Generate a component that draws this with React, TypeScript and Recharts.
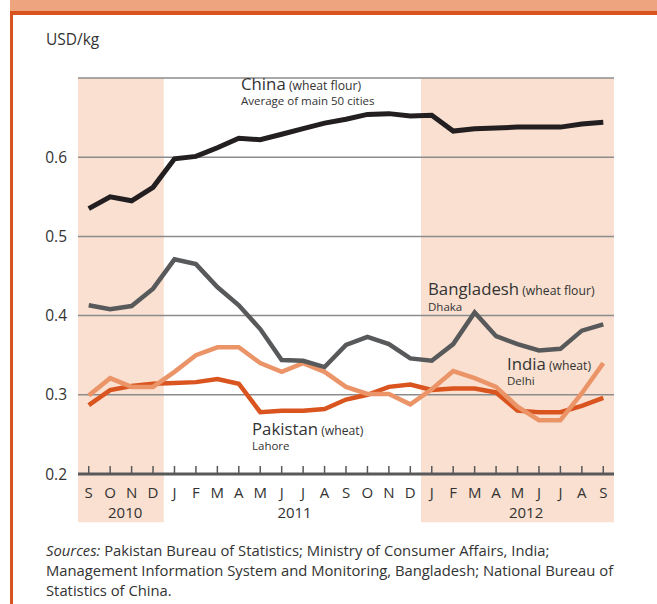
import React from "react";
import {
  LineChart,
  Line,
  XAxis,
  YAxis,
  CartesianGrid,
  ReferenceArea,
} from "recharts";

const months = [
  "Sep 2010", "Oct 2010", "Nov 2010", "Dec 2010",
  "Jan 2011", "Feb 2011", "Mar 2011", "Apr 2011", "May 2011", "Jun 2011",
  "Jul 2011", "Aug 2011", "Sep 2011", "Oct 2011", "Nov 2011", "Dec 2011",
  "Jan 2012", "Feb 2012", "Mar 2012", "Apr 2012", "May 2012", "Jun 2012",
  "Jul 2012", "Aug 2012", "Sep 2012",
];

const chinaFlour = [
  0.535, 0.55, 0.545, 0.562, 0.598, 0.601, 0.612, 0.624, 0.622, 0.629,
  0.636, 0.643, 0.648, 0.654, 0.655, 0.652, 0.653, 0.633, 0.636, 0.637,
  0.638, 0.638, 0.638, 0.642, 0.644,
];
const bangladeshFlour = [
  0.413, 0.408, 0.412, 0.434, 0.471, 0.465, 0.436, 0.413, 0.383, 0.344,
  0.343, 0.335, 0.363, 0.373, 0.364, 0.346, 0.343, 0.364, 0.404, 0.374,
  0.364, 0.356, 0.358, 0.381, 0.389,
];
const pakistanWheat = [
  0.287, 0.306, 0.311, 0.314, 0.315, 0.316, 0.32, 0.314, 0.278, 0.28,
  0.28, 0.282, 0.294, 0.3, 0.31, 0.313, 0.306, 0.308, 0.308, 0.303,
  0.28, 0.278, 0.278, 0.286, 0.296,
];
const indiaWheat = [
  0.299, 0.321, 0.31, 0.31, 0.329, 0.35, 0.36, 0.36, 0.34, 0.329,
  0.34, 0.329, 0.31, 0.301, 0.301, 0.288, 0.307, 0.33, 0.321, 0.31,
  0.285, 0.268, 0.268, 0.302, 0.34,
];

const yTicks = [0.2, 0.3, 0.4, 0.5, 0.6];
// year captions, placed at a fractional month index
const yearLabels = [
  { label: "2010", at: 1.7 },
  { label: "2011", at: 9.6 },
  { label: "2012", at: 20.4 },
];
const shadedYears = [
  { from: "Sep 2010", to: "Dec 2010" },
  { from: "Jan 2012", to: "Sep 2012" },
];
const BAND_FLOOR = 0.139; // shading runs down behind the month labels

const data = months.map((m, i) => ({
  month: m,
  china: chinaFlour[i],
  bangladesh: bangladeshFlour[i],
  pakistan: pakistanWheat[i],
  india: indiaWheat[i],
}));

const FONT = "'Open Sans', Lato, sans-serif";
const TEXT = "#333";

const MonthTick = (props: any) => {
  const { x, y, payload } = props;
  const idx = props.index ?? payload.index;
  const half = payload.offset || 10.72;
  const year = yearLabels.find((yl) => Math.floor(yl.at) === idx);
  return (
    <g>
      <line x1={x} y1={y} x2={x} y2={y - 8} stroke="#58595B" strokeWidth={1.5} />
      <text x={x} y={y + 24} textAnchor="middle" fontSize={15} fill={TEXT} fontFamily={FONT}>
        {String(payload.value).charAt(0)}
      </text>
      {year && (
        <text
          x={x + (year.at - idx) * 2 * half}
          y={y + 44}
          textAnchor="middle"
          fontSize={15}
          fill={TEXT}
          fontFamily={FONT}
        >
          {year.label}
        </text>
      )}
    </g>
  );
};

export default function App() {
  return (
    <div
      style={{
        position: "absolute",
        left: 0,
        top: 0,
        width: 657,
        height: 604,
        background: "#fff",
        overflow: "hidden",
        fontFamily: FONT,
      }}
    >
      <div style={{ position: "absolute", left: 10, top: 0, width: 647, height: 11, background: "#EEA47E" }} />
      <div style={{ position: "absolute", left: 10, top: 11, width: 647, height: 4, background: "#D9531E" }} />
      <div style={{ position: "absolute", left: 10, top: 11, width: 3, height: 593, background: "#D9531E" }} />

      <div style={{ position: "absolute", left: 0, top: 0 }}>
        <LineChart
          width={657}
          height={530}
          data={data}
          margin={{ top: 78, right: 43, bottom: 0, left: 18 }}
        >
          {shadedYears.map((s) => (
            <ReferenceArea
              key={s.from}
              x1={s.from}
              x2={s.to}
              y1={BAND_FLOOR}
              y2={0.7}
              fill="#F9E0D0"
              fillOpacity={1}
              stroke="none"
              ifOverflow="visible"
              zIndex={-200}
            />
          ))}
          <CartesianGrid vertical={false} stroke="#8C8C8C" strokeWidth={1.5} />
          <XAxis
            dataKey="month"
            scale="band"
            interval={0}
            height={56}
            tickSize={0}
            tickMargin={0}
            tickLine={false}
            axisLine={{ stroke: "#58595B", strokeWidth: 3 }}
            tick={(p: any) => <MonthTick {...p} />}
          />
          <YAxis
            width={60}
            domain={[0.2, 0.7]}
            ticks={yTicks}
            axisLine={false}
            tickLine={false}
            tickSize={0}
            tickMargin={11}
            tick={{ fontSize: 15.5, fill: TEXT, fontFamily: FONT }}
            tickFormatter={(v: number) => v.toFixed(1)}
          />
          <Line type="linear" dataKey="pakistan" stroke="#D9541E" strokeWidth={4.5} dot={false} activeDot={false} isAnimationActive={false} />
          <Line type="linear" dataKey="india" stroke="#EB9468" strokeWidth={4.5} dot={false} activeDot={false} isAnimationActive={false} />
          <Line type="linear" dataKey="bangladesh" stroke="#58595B" strokeWidth={4.5} dot={false} activeDot={false} isAnimationActive={false} />
          <Line type="linear" dataKey="china" stroke="#231F20" strokeWidth={5} dot={false} activeDot={false} isAnimationActive={false} />
        </LineChart>
      </div>

      <svg
        width={657}
        height={604}
        style={{ position: "absolute", left: 0, top: 0, pointerEvents: "none" }}
        fontFamily={FONT}
        fill={TEXT}
      >
        <text x={46} y={45} fontSize={15.5}>USD/kg</text>

        <text x={241} y={90} fontSize={16.8}>
          China<tspan fontSize={12.2}> (wheat flour)</tspan>
        </text>
        <text x={241} y={105} fontSize={11.5}>Average of main 50 cities</text>

        <text x={428} y={295} fontSize={16.8}>
          Bangladesh<tspan fontSize={12.2}> (wheat flour)</tspan>
        </text>
        <text x={428} y={311} fontSize={11.5}>Dhaka</text>

        <text x={507} y={370} fontSize={16.8}>
          India<tspan fontSize={12.2}> (wheat)</tspan>
        </text>
        <text x={507} y={385} fontSize={11.5}>Delhi</text>

        <text x={252} y={435} fontSize={16.8}>
          Pakistan<tspan fontSize={12.2}> (wheat)</tspan>
        </text>
        <text x={252} y={450} fontSize={11.5}>Lahore</text>
      </svg>

      <div
        style={{
          position: "absolute",
          left: 46,
          top: 540,
          fontSize: 14.8,
          lineHeight: "20px",
          color: TEXT,
          whiteSpace: "nowrap",
        }}
      >
        <i>Sources:</i> Pakistan Bureau of Statistics; Ministry of Consumer Affairs, India;
        <br />
        Management Information System and Monitoring, Bangladesh; National Bureau of
        <br />
        Statistics of China.
      </div>
    </div>
  );
}
